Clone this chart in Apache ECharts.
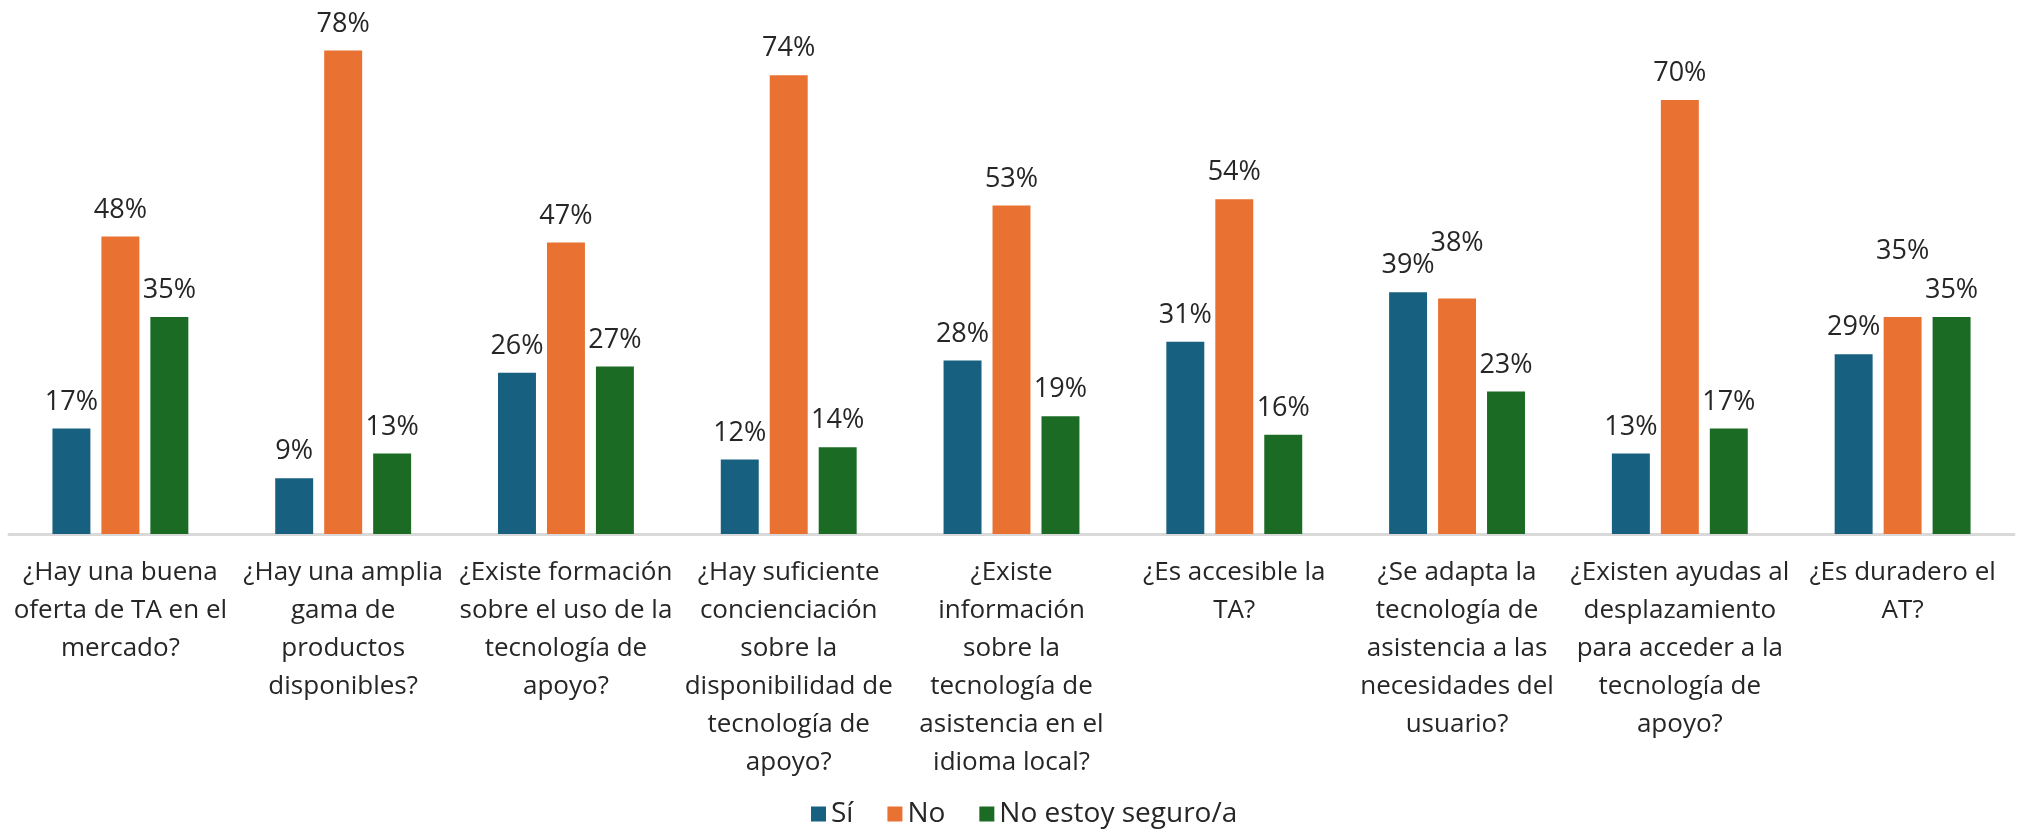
<!DOCTYPE html>
<html>
<head>
<meta charset="utf-8">
<script src="https://cdn.jsdelivr.net/npm/echarts@6/dist/echarts.min.js"></script>
<style>
  html, body { margin: 0; padding: 0; background: #fff; }
  #main { width: 2020px; height: 839px; }
</style>
</head>
<body>
<div id="main"></div>
<script>
// categorías (con saltos de línea como en el original)
const categories = [
  '¿Hay una buena\noferta de TA en el\nmercado?',
  '¿Hay una amplia\ngama de\nproductos\ndisponibles?',
  '¿Existe formación\nsobre el uso de la\ntecnología de\napoyo?',
  '¿Hay suficiente\nconcienciación\nsobre la\ndisponibilidad de\ntecnología de\napoyo?',
  '¿Existe\ninformación\nsobre la\ntecnología de\nasistencia en el\nidioma local?',
  '¿Es accesible la\nTA?',
  '¿Se adapta la\ntecnología de\nasistencia a las\nnecesidades del\nusuario?',
  '¿Existen ayudas al\ndesplazamiento\npara acceder a la\ntecnología de\napoyo?',
  '¿Es duradero el\nAT?'
];
const seriesNames = ['Sí', 'No', 'No estoy seguro/a'];
const si = [17, 9, 26, 12, 28, 31, 39, 13, 29];
const no = [48, 78, 47, 74, 53, 54, 38, 70, 35];
const noSeguro = [35, 13, 27, 14, 19, 16, 23, 17, 35];
const colors = ['#17607f', '#e97132', '#1b6b25'];

// etiquetas que en el original se subieron para no chocar (índice -> px)
const noLabelLift = { 6: 29, 8: 39 };

const font = '"Open Sans", "Noto Sans", sans-serif';

function barSeries(name, data, color, lift) {
  lift = lift || {};
  return {
    name: name,
    type: 'bar',
    data: data.map(function (v, i) {
      return lift[i] ? { value: v, label: { offset: [0, -lift[i]] } } : v;
    }),
    barGap: '29%',
    barCategoryGap: '39%',
    itemStyle: { color: color },
    label: {
      show: true,
      position: 'top',
      distance: 13,
      formatter: '{c}%',
      fontFamily: font,
      fontSize: 27,
      color: '#262626'
    }
  };
}

const chart = echarts.init(document.getElementById('main'));
chart.setOption({
  animation: false,
  color: colors,
  grid: { left: 9, right: 6, top: 38, bottom: 305 },
  legend: {
    bottom: 6,
    left: 806,
    icon: 'rect',
    itemWidth: 15,
    itemHeight: 15,
    itemGap: 34,
    textStyle: { fontFamily: font, fontSize: 28, color: '#262626' },
    data: seriesNames
  },
  xAxis: {
    type: 'category',
    data: categories,
    axisLine: { lineStyle: { color: '#d9d9d9', width: 3 } },
    axisTick: { show: false },
    axisLabel: {
      interval: 0,
      margin: 20,
      fontFamily: font,
      fontSize: 26,
      lineHeight: 38,
      color: '#262626',
      align: 'center'
    }
  },
  yAxis: {
    type: 'value',
    min: 0,
    max: 80,
    show: false,
    splitLine: { show: false }
  },
  series: [
    barSeries(seriesNames[0], si, colors[0]),
    barSeries(seriesNames[1], no, colors[1], noLabelLift),
    barSeries(seriesNames[2], noSeguro, colors[2])
  ]
});
</script>
</body>
</html>
